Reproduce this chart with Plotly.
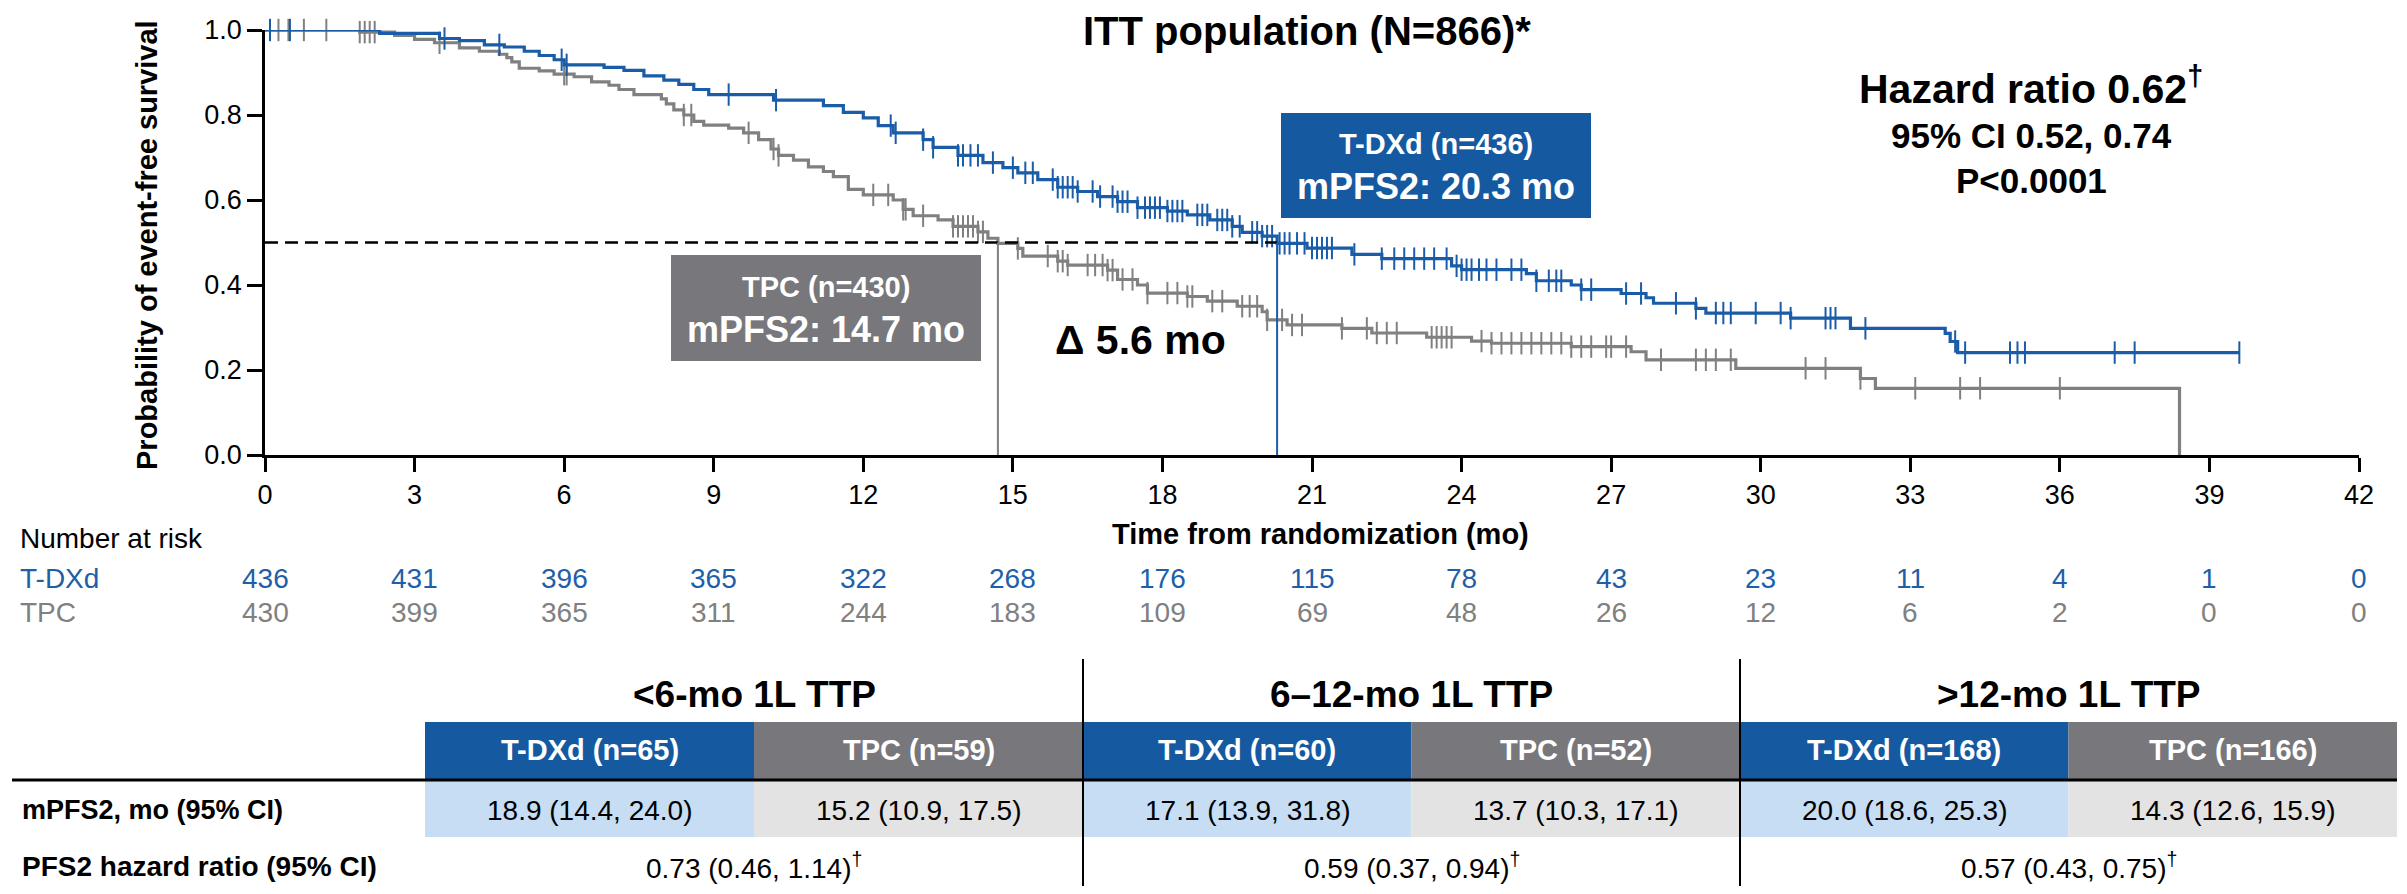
import plotly.graph_objects as go

# The page body adds an 8px margin around the figure, so the figure is
# sized to fit the 2407x894 window exactly and coordinates are offset.
PAGE_W, PAGE_H = 2407, 894
OFF = 8
W, H = PAGE_W - 2 * OFF, PAGE_H - 2 * OFF
FONT = "Arial, Liberation Sans, sans-serif"
BLUE = "#1a5ca7"
GREY = "#808080"
BOX_BLUE = "#155aa1"
BOX_GREY = "#78777c"
LIGHT_BLUE = "#c6ddf4"
LIGHT_GREY = "#e3e3e3"
RISK_BLUE = "#1f5fa9"

# ---------------- Kaplan-Meier data ----------------
tdxd_t = [0, 2.3, 3.5, 3.9, 4.4, 4.8, 5.2, 5.5, 5.8, 6.0, 6.8, 7.2, 7.6, 8.0, 8.3, 8.6, 8.9, 10.2, 11.2, 11.6,
          12.0, 12.3, 12.6, 13.2, 13.4, 13.9, 14.4, 14.8, 15.1, 15.5, 15.9, 16.3, 16.7, 17.1, 17.5, 18.1, 18.5,
          18.95, 19.4, 19.6, 20.0, 20.3, 20.9, 21.8, 22.4, 23.8, 24.0, 25.3, 25.5, 26.2, 26.4, 27.2, 27.7, 27.85,
          28.7, 28.9, 30.6, 31.8, 33.7, 33.8, 33.95, 39.6]
tdxd_s = [1.0, 0.992, 0.98, 0.975, 0.965, 0.96, 0.95, 0.94, 0.93, 0.918, 0.912, 0.905, 0.892, 0.882, 0.872, 0.86,
          0.848, 0.835, 0.822, 0.806, 0.793, 0.775, 0.758, 0.742, 0.724, 0.705, 0.688, 0.676, 0.664, 0.648, 0.63,
          0.62, 0.608, 0.596, 0.582, 0.574, 0.565, 0.553, 0.538, 0.524, 0.515, 0.498, 0.487, 0.472, 0.462, 0.445,
          0.436, 0.427, 0.41, 0.40, 0.389, 0.38, 0.37, 0.357, 0.345, 0.334, 0.322, 0.298, 0.286, 0.267, 0.241, 0.241]
tdxd_censor = [0.1, 0.5, 3.6, 4.7, 5.95, 6.05, 9.3, 10.25, 12.55, 12.65, 13.2, 13.4, 13.9, 14.0, 14.15, 14.3, 14.6,
               15.0, 15.25, 15.4, 15.8, 15.9, 16.0, 16.1, 16.2, 16.3, 16.6, 16.75, 17.0, 17.1, 17.2, 17.3, 17.5,
               17.65, 17.75, 17.85, 17.95, 18.1, 18.2, 18.3, 18.4, 18.7, 18.8, 18.9, 19.1, 19.2, 19.3, 19.4, 19.55,
               19.8, 19.9, 20.0, 20.1, 20.2, 20.35, 20.45, 20.55, 20.7, 20.85, 21.0, 21.1, 21.2, 21.3, 21.4, 21.85,
               22.4, 22.65, 22.85, 23.05, 23.25, 23.45, 23.7, 23.9, 24.0, 24.1, 24.2, 24.35, 24.5, 24.7, 25.0, 25.2,
               25.5, 25.75, 25.9, 26.0, 26.4, 26.6, 27.3, 27.6, 28.3, 28.7, 29.1, 29.25, 29.4, 29.9, 30.4, 30.6,
               31.3, 31.4, 31.5, 32.1, 33.9, 34.1, 35.0, 35.15, 35.3, 37.1, 37.5, 39.6]

tpc_t = [0, 1.9, 2.6, 3.0, 3.4, 3.9, 4.3, 4.7, 4.85, 4.95, 5.1, 5.5, 5.8, 6.2, 6.55, 6.9, 7.1, 7.4, 7.95, 8.05,
         8.2, 8.4, 8.6, 8.8, 9.3, 9.6, 9.9, 10.15, 10.3, 10.6, 10.9, 11.2, 11.4, 11.7, 12.0, 12.6, 12.8, 13.0,
         13.5, 13.8, 14.3, 14.5, 14.7, 15.1, 15.2, 15.9, 16.1, 16.9, 17.1, 17.5, 17.7, 18.5, 18.9, 19.5, 20.0,
         20.1, 20.5, 21.6, 22.2, 23.3, 24.2, 24.6, 26.2, 27.4, 27.7, 29.5, 32.0, 32.3, 38.4]
tpc_s = [1.0, 0.995, 0.987, 0.978, 0.97, 0.958, 0.95, 0.943, 0.935, 0.925, 0.91, 0.904, 0.896, 0.89, 0.878, 0.87,
         0.86, 0.848, 0.838, 0.826, 0.812, 0.80, 0.785, 0.776, 0.769, 0.758, 0.742, 0.72, 0.705, 0.694, 0.678,
         0.667, 0.655, 0.625, 0.612, 0.60, 0.578, 0.563, 0.553, 0.538, 0.525, 0.51, 0.498, 0.486, 0.468, 0.456,
         0.447, 0.435, 0.413, 0.40, 0.381, 0.373, 0.362, 0.35, 0.337, 0.318, 0.306, 0.298, 0.287, 0.277, 0.268,
         0.263, 0.255, 0.243, 0.224, 0.204, 0.18, 0.157, 0.0]
tpc_censor = [0.27, 0.47, 0.78, 1.23, 1.9, 2.0, 2.1, 2.2, 3.5, 6.0, 6.05, 8.4, 8.55, 9.7, 10.2, 10.3, 12.2, 12.5,
              12.8, 12.85, 13.2, 13.8, 13.9, 14.0, 14.1, 14.2, 14.3, 14.4, 15.1, 15.7, 15.9, 16.0, 16.1, 16.5,
              16.65, 16.8, 16.9, 17.0, 17.2, 17.4, 17.7, 18.1, 18.3, 18.5, 18.6, 19.0, 19.2, 19.6, 19.75, 19.9,
              20.1, 20.4, 20.6, 20.8, 21.6, 22.1, 22.3, 22.5, 22.7, 23.4, 23.5, 23.6, 23.7, 23.8, 24.4, 24.6, 24.8,
              25.0, 25.2, 25.4, 25.6, 25.8, 26.0, 26.2, 26.4, 26.6, 26.9, 27.0, 27.3, 28.0, 28.7, 28.9, 29.1, 29.4,
              30.9, 31.3, 32.0, 33.1, 34.0, 34.4, 36.0]

median_tdxd = 20.3
median_tpc = 14.7

# ---------------- Number at risk ----------------
risk_times = [0, 3, 6, 9, 12, 15, 18, 21, 24, 27, 30, 33, 36, 39, 42]
tdxd_risk = [436, 431, 396, 365, 322, 268, 176, 115, 78, 43, 23, 11, 4, 1, 0]
tpc_risk = [430, 399, 365, 311, 244, 183, 109, 69, 48, 26, 12, 6, 2, 0, 0]

# ---------------- Subgroup table ----------------
groups = ["<6-mo 1L TTP", "6–12-mo 1L TTP", ">12-mo 1L TTP"]
tdxd_n = [65, 60, 168]
tpc_n = [59, 52, 166]
tdxd_mpfs2 = ["18.9 (14.4, 24.0)", "17.1 (13.9, 31.8)", "20.0 (18.6, 25.3)"]
tpc_mpfs2 = ["15.2 (10.9, 17.5)", "13.7 (10.3, 17.1)", "14.3 (12.6, 15.9)"]
hr_text = ["0.73 (0.46, 1.14)", "0.59 (0.37, 0.94)", "0.57 (0.43, 0.75)"]


def px(x):
    return (x - OFF) / W


def py(y):
    return 1 - (y - OFF) / H


def step_value(ts, ss, t):
    v = ss[0]
    for ti, si in zip(ts, ss):
        if ti <= t:
            v = si
        else:
            break
    return v


fig = go.Figure()

# curves
fig.add_trace(go.Scatter(x=tpc_t, y=tpc_s, mode="lines", line=dict(color=GREY, width=3.2, shape="hv"),
                         cliponaxis=False, showlegend=False, hoverinfo="skip"))
fig.add_trace(go.Scatter(x=tpc_censor, y=[step_value(tpc_t, tpc_s, t) for t in tpc_censor], mode="markers",
                         marker=dict(symbol="line-ns", size=16, line=dict(color=GREY, width=2)),
                         cliponaxis=False, showlegend=False, hoverinfo="skip"))
fig.add_trace(go.Scatter(x=tdxd_t, y=tdxd_s, mode="lines", line=dict(color=BLUE, width=3.2, shape="hv"),
                         cliponaxis=False, showlegend=False, hoverinfo="skip"))
fig.add_trace(go.Scatter(x=tdxd_censor, y=[step_value(tdxd_t, tdxd_s, t) for t in tdxd_censor], mode="markers",
                         marker=dict(symbol="line-ns", size=16, line=dict(color=BLUE, width=2)),
                         cliponaxis=False, showlegend=False, hoverinfo="skip"))

shapes = []
# median lines
shapes.append(dict(type="line", xref="x", yref="y", x0=0, x1=median_tdxd, y0=0.5, y1=0.5,
                   line=dict(color="black", width=2.5, dash="13px,7px")))
shapes.append(dict(type="line", xref="x", yref="y", x0=median_tpc, x1=median_tpc, y0=0, y1=0.5,
                   line=dict(color=GREY, width=2)))
shapes.append(dict(type="line", xref="x", yref="y", x0=median_tdxd, x1=median_tdxd, y0=0, y1=0.5,
                   line=dict(color=BLUE, width=2)))
# boxes
shapes.append(dict(type="rect", xref="paper", yref="paper", x0=px(1281), x1=px(1591), y0=py(218), y1=py(113),
                   fillcolor=BOX_BLUE, line=dict(width=0), layer="above"))
shapes.append(dict(type="rect", xref="paper", yref="paper", x0=px(671), x1=px(981), y0=py(361), y1=py(255),
                   fillcolor=BOX_GREY, line=dict(width=0), layer="above"))

ann = []


def text(x, y, s, size, color="black", bold=False, xanchor="center", xref="paper", angle=0):
    if bold:
        s = "<b>" + s + "</b>"
    ann.append(dict(x=x if xref != "paper" else px(x), y=py(y), xref=xref, yref="paper", text=s,
                    showarrow=False, xanchor=xanchor, yanchor="middle", textangle=angle,
                    font=dict(family=FONT, size=size, color=color)))


# titles / labels
text(1307, 31, "ITT population (N=866)*", 40, bold=True)
text(2031, 86, "Hazard ratio 0.62<sup>†</sup>", 41, bold=True)
text(2031, 135, "95% CI 0.52, 0.74", 35, bold=True)
text(2031, 180, "P<0.0001", 35, bold=True)
text(1436, 144, "T-DXd (n=436)", 29, color="white", bold=True)
text(1436, 186, f"mPFS2: {median_tdxd} mo", 36, color="white", bold=True)
text(826, 287, "TPC (n=430)", 29, color="white", bold=True)
text(826, 330, f"mPFS2: {median_tpc} mo", 36, color="white", bold=True)
text(1140, 340, f"Δ {median_tdxd - median_tpc:.1f} mo", 41, bold=True)
text(147, 245, "Probability of event-free survival", 29, bold=True, angle=-90)
text(1320, 534, "Time from randomization (mo)", 29, bold=True)

# number at risk
text(18, 538, "Number at risk", 28, xanchor="left")
text(18, 578, "T-DXd", 28, color=RISK_BLUE, xanchor="left")
text(18, 612, "TPC", 28, color=GREY, xanchor="left")
for t, a, b in zip(risk_times, tdxd_risk, tpc_risk):
    text(t, 578, str(a), 28, color=RISK_BLUE, xref="x")
    text(t, 612, str(b), 28, color=GREY, xref="x")

# table
edges = [425, 1083, 1740, 2397]
for i, g in enumerate(groups):
    xl, xr = edges[i], edges[i + 1]
    xm = (xl + xr) / 2
    text(xm, 694, g, 37, bold=True)
    shapes.append(dict(type="rect", xref="paper", yref="paper", x0=px(xl), x1=px(xm), y0=py(779), y1=py(722),
                       fillcolor=BOX_BLUE, line=dict(width=0), layer="below"))
    shapes.append(dict(type="rect", xref="paper", yref="paper", x0=px(xm), x1=px(xr), y0=py(779), y1=py(722),
                       fillcolor=BOX_GREY, line=dict(width=0), layer="below"))
    shapes.append(dict(type="rect", xref="paper", yref="paper", x0=px(xl), x1=px(xm), y0=py(837), y1=py(781),
                       fillcolor=LIGHT_BLUE, line=dict(width=0), layer="below"))
    shapes.append(dict(type="rect", xref="paper", yref="paper", x0=px(xm), x1=px(xr), y0=py(837), y1=py(781),
                       fillcolor=LIGHT_GREY, line=dict(width=0), layer="below"))
    text((xl + xm) / 2, 750, f"T-DXd (n={tdxd_n[i]})", 29, color="white", bold=True)
    text((xm + xr) / 2, 750, f"TPC (n={tpc_n[i]})", 29, color="white", bold=True)
    text((xl + xm) / 2, 810, tdxd_mpfs2[i], 28)
    text((xm + xr) / 2, 810, tpc_mpfs2[i], 28)
    text(xm, 866, hr_text[i] + "<sup>†</sup>", 28)

text(20, 810, "mPFS2, mo (95% CI)", 27, bold=True, xanchor="left")
text(20, 866, "PFS2 hazard ratio (95% CI)", 28, bold=True, xanchor="left")

shapes.append(dict(type="line", xref="paper", yref="paper", x0=px(12), x1=px(2397), y0=py(780), y1=py(780),
                   line=dict(color="black", width=3)))
for xe in edges[1:3]:
    shapes.append(dict(type="line", xref="paper", yref="paper", x0=px(xe), x1=px(xe), y0=py(659), y1=0,
                       line=dict(color="black", width=2)))

fig.update_layout(
    width=W, height=H, margin=dict(l=0, r=0, t=0, b=0, autoexpand=False),
    paper_bgcolor="white", plot_bgcolor="white",
    shapes=shapes, annotations=ann,
    xaxis=dict(domain=[px(265), px(2359)], range=[0, 42], tickvals=risk_times, showgrid=False, zeroline=False,
               automargin=False,
               showline=True, linecolor="black", linewidth=2.5, ticks="outside", ticklen=14, tickwidth=2.5,
               tickcolor="black", tickfont=dict(family=FONT, size=27, color="black")),
    yaxis=dict(domain=[py(455), py(30)], range=[0, 1], tickvals=[0, 0.2, 0.4, 0.6, 0.8, 1.0], tickformat=".1f",
               automargin=False,
               showgrid=False, zeroline=False, showline=True, linecolor="black", linewidth=2.5, ticks="outside",
               ticklen=15, tickwidth=2.5, tickcolor="black", tickfont=dict(family=FONT, size=27, color="black")),
    font=dict(family=FONT),
)

fig.write_html("out.html")
